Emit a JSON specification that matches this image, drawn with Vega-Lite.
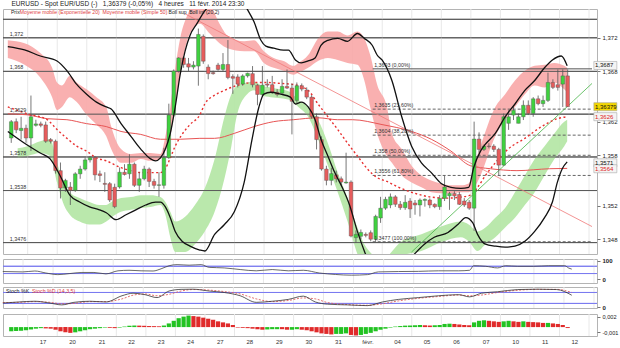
{
"$schema":"https://vega.github.io/schema/vega-lite/v6.json",
"padding":{"left":0,"top":0,"right":0,"bottom":0},
"config":{"font":"Liberation Sans","view":{"stroke":"#b4b4b4","strokeWidth":1},"axisBottom":{"labelOverlap":false,"labelSeparation":0,"labelFlush":false}},
"title":{"text":"EURUSD - Spot EUR/USD (-)\u00a0\u00a0\u00a01,36379 (-0,05%)\u00a0\u00a0\u00a04 heures\u00a0\u00a0\u00a011 févr. 2014 23:30","anchor":"start","frame":"bounds","fontSize":6.5,"fontWeight":"normal","color":"#222","offset":1,"dx":11},
"spacing":2,
"datasets":{
"days":[{"x":3.34},{"x":9.34},{"x":15.34},{"x":21.34},{"x":27.34},{"x":33.34},{"x":39.34},{"x":45.34},{"x":51.34},{"x":57.34},{"x":63.34},{"x":69.34},{"x":75.34},{"x":81.34},{"x":87.34},{"x":93.34},{"x":99.34},{"x":105.34},{"x":111.34},{"x":117.34}],
"candles":[
{"x":0,"o":1.36006,"h":1.3622,"l":1.35948,"c":1.36201},
{"x":1,"o":1.36201,"h":1.36239,"l":1.36064,"c":1.36103},
{"x":2,"o":1.36095,"h":1.36259,"l":1.35987,"c":1.36122},
{"x":3,"o":1.36122,"h":1.36165,"l":1.35948,"c":1.36006},
{"x":4,"o":1.36006,"h":1.36512,"l":1.35851,"c":1.36259},
{"x":5,"o":1.36157,"h":1.36224,"l":1.36142,"c":1.36174},
{"x":6,"o":1.36174,"h":1.36201,"l":1.36134,"c":1.36157},
{"x":7,"o":1.36162,"h":1.36201,"l":1.35948,"c":1.35967},
{"x":8,"o":1.35987,"h":1.36006,"l":1.35941,"c":1.35967},
{"x":9,"o":1.35967,"h":1.35987,"l":1.35582,"c":1.35617},
{"x":10,"o":1.35617,"h":1.35714,"l":1.35286,"c":1.3541},
{"x":11,"o":1.3541,"h":1.3552,"l":1.35364,"c":1.35501},
{"x":12,"o":1.35422,"h":1.35481,"l":1.35208,"c":1.35383},
{"x":13,"o":1.35383,"h":1.35598,"l":1.35364,"c":1.35579},
{"x":14,"o":1.35579,"h":1.35675,"l":1.3552,"c":1.35636},
{"x":15,"o":1.35636,"h":1.35772,"l":1.35617,"c":1.35745},
{"x":16,"o":1.35745,"h":1.35792,"l":1.35714,"c":1.35772},
{"x":17,"o":1.35772,"h":1.35792,"l":1.35501,"c":1.35567},
{"x":18,"o":1.35579,"h":1.35617,"l":1.35481,"c":1.35559},
{"x":19,"o":1.35465,"h":1.35598,"l":1.35364,"c":1.35454},
{"x":20,"o":1.35462,"h":1.35481,"l":1.35243,"c":1.35267},
{"x":21,"o":1.35419,"h":1.35462,"l":1.35169,"c":1.35188},
{"x":22,"o":1.35422,"h":1.35655,"l":1.35403,"c":1.35598},
{"x":23,"o":1.35598,"h":1.35694,"l":1.35559,"c":1.35571},
{"x":24,"o":1.35579,"h":1.35812,"l":1.3552,"c":1.35694},
{"x":25,"o":1.35694,"h":1.35714,"l":1.35422,"c":1.35442},
{"x":26,"o":1.35442,"h":1.35598,"l":1.35364,"c":1.3552},
{"x":27,"o":1.3552,"h":1.35675,"l":1.35501,"c":1.35636},
{"x":28,"o":1.35636,"h":1.35655,"l":1.35422,"c":1.35489},
{"x":29,"o":1.35489,"h":1.3552,"l":1.35403,"c":1.35442},
{"x":30,"o":1.35442,"h":1.35598,"l":1.35305,"c":1.35448},
{"x":31,"o":1.35442,"h":1.35889,"l":1.35403,"c":1.35772},
{"x":32,"o":1.35772,"h":1.36415,"l":1.35757,"c":1.36279},
{"x":33,"o":1.36279,"h":1.36823,"l":1.36259,"c":1.36804},
{"x":34,"o":1.36804,"h":1.36968,"l":1.36785,"c":1.3696},
{"x":35,"o":1.3696,"h":1.36979,"l":1.36843,"c":1.36882},
{"x":36,"o":1.3689,"h":1.3696,"l":1.36804,"c":1.36851},
{"x":37,"o":1.36851,"h":1.36921,"l":1.36823,"c":1.36875},
{"x":38,"o":1.36863,"h":1.3731,"l":1.36629,"c":1.3724},
{"x":39,"o":1.37217,"h":1.3724,"l":1.3689,"c":1.36921},
{"x":40,"o":1.36851,"h":1.36882,"l":1.36706,"c":1.36773},
{"x":41,"o":1.36785,"h":1.36808,"l":1.36761,"c":1.36773},
{"x":42,"o":1.36875,"h":1.36901,"l":1.36808,"c":1.36823},
{"x":43,"o":1.36823,"h":1.37018,"l":1.36804,"c":1.36882},
{"x":44,"o":1.36882,"h":1.37173,"l":1.36706,"c":1.36726},
{"x":45,"o":1.36738,"h":1.36765,"l":1.36532,"c":1.36718},
{"x":46,"o":1.36734,"h":1.36765,"l":1.36609,"c":1.36648},
{"x":47,"o":1.36648,"h":1.36765,"l":1.36629,"c":1.36746},
{"x":48,"o":1.36746,"h":1.36785,"l":1.36726,"c":1.36777},
{"x":49,"o":1.36773,"h":1.36863,"l":1.36609,"c":1.36641},
{"x":50,"o":1.36636,"h":1.36648,"l":1.36396,"c":1.36525},
{"x":51,"o":1.36525,"h":1.36863,"l":1.36501,"c":1.36636},
{"x":52,"o":1.36648,"h":1.36706,"l":1.36609,"c":1.36636},
{"x":53,"o":1.36641,"h":1.36746,"l":1.36532,"c":1.36551},
{"x":54,"o":1.36551,"h":1.36589,"l":1.36501,"c":1.36525},
{"x":55,"o":1.3654,"h":1.36706,"l":1.36525,"c":1.36621},
{"x":56,"o":1.36621,"h":1.36823,"l":1.36589,"c":1.36601},
{"x":57,"o":1.36601,"h":1.36656,"l":1.36049,"c":1.36443},
{"x":58,"o":1.36454,"h":1.36668,"l":1.3642,"c":1.36629},
{"x":59,"o":1.36629,"h":1.36656,"l":1.36563,"c":1.36589},
{"x":60,"o":1.36578,"h":1.36609,"l":1.36469,"c":1.36493},
{"x":61,"o":1.36493,"h":1.36516,"l":1.36236,"c":1.36259},
{"x":62,"o":1.36259,"h":1.36298,"l":1.3587,"c":1.35987},
{"x":63,"o":1.35987,"h":1.36026,"l":1.35617,"c":1.35636},
{"x":64,"o":1.35636,"h":1.35675,"l":1.35442,"c":1.35501},
{"x":65,"o":1.35501,"h":1.35652,"l":1.35442,"c":1.35582},
{"x":66,"o":1.35567,"h":1.35617,"l":1.35477,"c":1.3552},
{"x":67,"o":1.3552,"h":1.35547,"l":1.35442,"c":1.35481},
{"x":68,"o":1.3547,"h":1.35831,"l":1.35462,"c":1.35481},
{"x":69,"o":1.35481,"h":1.35501,"l":1.34823,"c":1.34838},
{"x":70,"o":1.34819,"h":1.34905,"l":1.34757,"c":1.34858},
{"x":71,"o":1.34835,"h":1.34916,"l":1.348,"c":1.34881},
{"x":72,"o":1.34858,"h":1.34881,"l":1.34823,"c":1.34846},
{"x":73,"o":1.34878,"h":1.34905,"l":1.34775,"c":1.348},
{"x":74,"o":1.348,"h":1.35092,"l":1.3477,"c":1.35072},
{"x":75,"o":1.35053,"h":1.35305,"l":1.34995,"c":1.3517},
{"x":76,"o":1.3517,"h":1.35305,"l":1.3515,"c":1.35275},
{"x":77,"o":1.35208,"h":1.35345,"l":1.3517,"c":1.35305},
{"x":78,"o":1.35305,"h":1.35325,"l":1.35185,"c":1.35216},
{"x":79,"o":1.35216,"h":1.35255,"l":1.3515,"c":1.35176},
{"x":80,"o":1.35176,"h":1.35325,"l":1.3515,"c":1.3524},
{"x":81,"o":1.35255,"h":1.3529,"l":1.35053,"c":1.3516},
{"x":82,"o":1.35232,"h":1.35267,"l":1.35092,"c":1.35208},
{"x":83,"o":1.35208,"h":1.35286,"l":1.35072,"c":1.35267},
{"x":84,"o":1.35263,"h":1.35286,"l":1.35188,"c":1.35275},
{"x":85,"o":1.35267,"h":1.35286,"l":1.3517,"c":1.35208},
{"x":86,"o":1.35216,"h":1.35228,"l":1.3517,"c":1.35188},
{"x":87,"o":1.35188,"h":1.35325,"l":1.3515,"c":1.35286},
{"x":88,"o":1.35286,"h":1.35559,"l":1.35255,"c":1.35422},
{"x":89,"o":1.35317,"h":1.35364,"l":1.3515,"c":1.35345},
{"x":90,"o":1.35345,"h":1.35372,"l":1.35267,"c":1.35317},
{"x":91,"o":1.35333,"h":1.35364,"l":1.35208,"c":1.35216},
{"x":92,"o":1.35255,"h":1.3529,"l":1.35185,"c":1.35208},
{"x":93,"o":1.3524,"h":1.35267,"l":1.3515,"c":1.3517},
{"x":94,"o":1.3517,"h":1.36201,"l":1.349,"c":1.35994},
{"x":95,"o":1.35994,"h":1.36073,"l":1.35831,"c":1.3587},
{"x":96,"o":1.3587,"h":1.35929,"l":1.35851,"c":1.35909},
{"x":97,"o":1.35909,"h":1.35944,"l":1.35882,"c":1.35905},
{"x":98,"o":1.35909,"h":1.35932,"l":1.3584,"c":1.3587},
{"x":99,"o":1.3587,"h":1.35889,"l":1.35559,"c":1.35683},
{"x":100,"o":1.35683,"h":1.36298,"l":1.35675,"c":1.36259},
{"x":101,"o":1.36181,"h":1.36337,"l":1.36103,"c":1.36259},
{"x":102,"o":1.36279,"h":1.36376,"l":1.3622,"c":1.36337},
{"x":103,"o":1.36181,"h":1.36298,"l":1.36181,"c":1.36259},
{"x":104,"o":1.36259,"h":1.36454,"l":1.3622,"c":1.36396},
{"x":105,"o":1.36396,"h":1.36454,"l":1.36279,"c":1.36298},
{"x":106,"o":1.36298,"h":1.36493,"l":1.36259,"c":1.36473},
{"x":107,"o":1.36473,"h":1.36512,"l":1.36396,"c":1.36415},
{"x":108,"o":1.36415,"h":1.36512,"l":1.36376,"c":1.36454},
{"x":109,"o":1.36454,"h":1.36785,"l":1.36435,"c":1.36668},
{"x":110,"o":1.36668,"h":1.36706,"l":1.36589,"c":1.36609},
{"x":111,"o":1.36641,"h":1.36823,"l":1.36571,"c":1.36609},
{"x":112,"o":1.36648,"h":1.36823,"l":1.36376,"c":1.36746},
{"x":113,"o":1.36746,"h":1.36823,"l":1.36376,"c":1.36379}],
"ind":[
{"x":-0.7,"s":"up","p":1.37096},{"x":2.7,"s":"up","p":1.37056},{"x":5.9,"s":"up","p":1.36983},{"x":9.3,"s":"up","p":1.36924},{"x":11.3,"s":"up","p":1.36808},{"x":13.3,"s":"up","p":1.36644},{"x":15.3,"s":"up","p":1.36528},{"x":17.3,"s":"up","p":1.36434},{"x":19.3,"s":"up","p":1.36376},{"x":20.3,"s":"up","p":1.36352},{"x":22.3,"s":"up","p":1.36177},{"x":24.3,"s":"up","p":1.36026},{"x":26.3,"s":"up","p":1.35874},{"x":28.3,"s":"up","p":1.35757},{"x":29.3,"s":"up","p":1.35734},{"x":30.3,"s":"up","p":1.35769},{"x":31.3,"s":"up","p":1.35874},{"x":32.3,"s":"up","p":1.36061},{"x":33.3,"s":"up","p":1.36376},{"x":34.3,"s":"up","p":1.36761},{"x":35.3,"s":"up","p":1.37041},{"x":36.3,"s":"up","p":1.37228},{"x":37.7,"s":"up","p":1.37368},{"x":39.3,"s":"up","p":1.3752},{"x":41.3,"s":"up","p":1.37637},{"x":44.3,"s":"up","p":1.37718},{"x":47.3,"s":"up","p":1.37602},{"x":47.9,"s":"up","p":1.37543},{"x":49.3,"s":"up","p":1.37391},{"x":50.7,"s":"up","p":1.3717},{"x":51.7,"s":"up","p":1.371},{"x":53.3,"s":"up","p":1.37076},{"x":55.3,"s":"up","p":1.37053},{"x":56.3,"s":"up","p":1.37053},{"x":57.7,"s":"up","p":1.36936},{"x":58.9,"s":"up","p":1.36901},{"x":60.3,"s":"up","p":1.36924},{"x":61.7,"s":"up","p":1.3696},{"x":62.9,"s":"up","p":1.37111},{"x":64.3,"s":"up","p":1.3717},{"x":66.3,"s":"up","p":1.37193},{"x":68.3,"s":"up","p":1.37158},{"x":70.3,"s":"up","p":1.37251},{"x":71.7,"s":"up","p":1.37193},{"x":73.3,"s":"up","p":1.37111},{"x":74.3,"s":"up","p":1.36995},{"x":75.3,"s":"up","p":1.36936},{"x":77.3,"s":"up","p":1.36691},{"x":79.3,"s":"up","p":1.36259},{"x":81.3,"s":"up","p":1.35909},{"x":83.3,"s":"up","p":1.3571},{"x":85.3,"s":"up","p":1.35594},{"x":87.3,"s":"up","p":1.35465},{"x":89.3,"s":"up","p":1.35418},{"x":91.3,"s":"up","p":1.35407},{"x":92.9,"s":"up","p":1.35418},{"x":93.9,"s":"up","p":1.35652},{"x":95.3,"s":"up","p":1.3585},{"x":96.3,"s":"up","p":1.35932},{"x":98.3,"s":"up","p":1.36061},{"x":100.3,"s":"up","p":1.36259},{"x":102.3,"s":"up","p":1.36411},{"x":104.3,"s":"up","p":1.36574},{"x":106.3,"s":"up","p":1.36691},{"x":108.3,"s":"up","p":1.36843},{"x":109.9,"s":"up","p":1.36936},{"x":111.7,"s":"up","p":1.36983},{"x":112.9,"s":"up","p":1.36866},
{"x":-0.7,"s":"lo","p":1.36084},{"x":2.7,"s":"lo","p":1.35944},{"x":5.9,"s":"lo","p":1.35827},{"x":7.9,"s":"lo","p":1.35757},{"x":9.9,"s":"lo","p":1.35559},{"x":11.9,"s":"lo","p":1.35325},{"x":13.9,"s":"lo","p":1.35243},{"x":15.9,"s":"lo","p":1.35185},{"x":17.9,"s":"lo","p":1.3515},{"x":19.3,"s":"lo","p":1.35115},{"x":21.3,"s":"lo","p":1.35033},{"x":23.3,"s":"lo","p":1.35092},{"x":25.3,"s":"lo","p":1.3515},{"x":27.3,"s":"lo","p":1.35208},{"x":29.3,"s":"lo","p":1.35243},{"x":30.3,"s":"lo","p":1.35243},{"x":31.3,"s":"lo","p":1.35185},{"x":32.3,"s":"lo","p":1.35057},{"x":33.3,"s":"lo","p":1.34893},{"x":34.7,"s":"lo","p":1.34776},{"x":36.3,"s":"lo","p":1.34718},{"x":38.3,"s":"lo","p":1.34671},{"x":39.3,"s":"lo","p":1.3466},{"x":41.3,"s":"lo","p":1.34858},{"x":43.3,"s":"lo","p":1.34975},{"x":45.3,"s":"lo","p":1.35127},{"x":47.3,"s":"lo","p":1.35477},{"x":48.9,"s":"lo","p":1.35991},{"x":50.3,"s":"lo","p":1.36376},{"x":51.3,"s":"lo","p":1.36528},{"x":52.7,"s":"lo","p":1.36551},{"x":54.7,"s":"lo","p":1.36528},{"x":56.7,"s":"lo","p":1.36493},{"x":57.7,"s":"lo","p":1.36411},{"x":58.9,"s":"lo","p":1.36434},{"x":60.3,"s":"lo","p":1.36376},{"x":61.7,"s":"lo","p":1.36224},{"x":62.9,"s":"lo","p":1.35991},{"x":64.3,"s":"lo","p":1.35792},{"x":65.7,"s":"lo","p":1.35594},{"x":67.3,"s":"lo","p":1.35407},{"x":68.7,"s":"lo","p":1.35208},{"x":70.3,"s":"lo","p":1.34893},{"x":71.7,"s":"lo","p":1.3466},{"x":73.3,"s":"lo","p":1.34449},{"x":76.3,"s":"lo","p":1.34274},{"x":79.3,"s":"lo","p":1.34449},{"x":81.9,"s":"lo","p":1.34625},{"x":83.9,"s":"lo","p":1.34741},{"x":85.9,"s":"lo","p":1.34823},{"x":88.7,"s":"lo","p":1.34881},{"x":90.7,"s":"lo","p":1.34975},{"x":92.3,"s":"lo","p":1.35057},{"x":93.7,"s":"lo","p":1.34998},{"x":94.7,"s":"lo","p":1.34858},{"x":96.3,"s":"lo","p":1.34741},{"x":98.3,"s":"lo","p":1.34718},{"x":100.3,"s":"lo","p":1.34706},{"x":102.3,"s":"lo","p":1.34718},{"x":104.3,"s":"lo","p":1.34776},{"x":106.3,"s":"lo","p":1.34893},{"x":108.3,"s":"lo","p":1.35057},{"x":109.9,"s":"lo","p":1.35243},{"x":110.9,"s":"lo","p":1.35477},{"x":111.9,"s":"lo","p":1.3564},{"x":112.9,"s":"lo","p":1.35722},
{"x":-0.7,"s":"ema","p":1.36376},{"x":3.3,"s":"ema","p":1.36294},{"x":7.3,"s":"ema","p":1.36224},{"x":9.3,"s":"ema","p":1.36107},{"x":11.3,"s":"ema","p":1.36002},{"x":13.3,"s":"ema","p":1.35909},{"x":15.3,"s":"ema","p":1.3585},{"x":17.3,"s":"ema","p":1.35769},{"x":19.3,"s":"ema","p":1.35734},{"x":22.3,"s":"ema","p":1.35652},{"x":24.3,"s":"ema","p":1.35617},{"x":26.3,"s":"ema","p":1.35594},{"x":28.3,"s":"ema","p":1.35594},{"x":30.3,"s":"ema","p":1.35594},{"x":31.3,"s":"ema","p":1.3564},{"x":32.3,"s":"ema","p":1.35769},{"x":33.3,"s":"ema","p":1.35909},{"x":34.7,"s":"ema","p":1.36049},{"x":36.3,"s":"ema","p":1.36166},{"x":38.3,"s":"ema","p":1.36282},{"x":39.3,"s":"ema","p":1.36411},{"x":41.3,"s":"ema","p":1.36516},{"x":43.3,"s":"ema","p":1.36574},{"x":45.9,"s":"ema","p":1.36633},{"x":49.3,"s":"ema","p":1.36668},{"x":51.9,"s":"ema","p":1.36668},{"x":54.7,"s":"ema","p":1.36656},{"x":57.3,"s":"ema","p":1.36644},{"x":60.3,"s":"ema","p":1.36574},{"x":62.3,"s":"ema","p":1.36411},{"x":64.3,"s":"ema","p":1.36259},{"x":66.3,"s":"ema","p":1.36107},{"x":68.3,"s":"ema","p":1.35944},{"x":70.3,"s":"ema","p":1.35792},{"x":72.3,"s":"ema","p":1.3564},{"x":74.3,"s":"ema","p":1.35535},{"x":76.3,"s":"ema","p":1.35488},{"x":78.7,"s":"ema","p":1.35418},{"x":81.9,"s":"ema","p":1.35348},{"x":85.3,"s":"ema","p":1.35302},{"x":88.7,"s":"ema","p":1.3529},{"x":91.3,"s":"ema","p":1.35302},{"x":93.3,"s":"ema","p":1.35325},{"x":94.7,"s":"ema","p":1.35418},{"x":96.3,"s":"ema","p":1.35559},{"x":98.3,"s":"ema","p":1.3571},{"x":100.9,"s":"ema","p":1.35874},{"x":104.3,"s":"ema","p":1.36002},{"x":107.7,"s":"ema","p":1.36142},{"x":110.9,"s":"ema","p":1.36236},{"x":112.9,"s":"ema","p":1.3626},
{"x":-0.7,"s":"sma","p":1.36294},{"x":3.3,"s":"sma","p":1.36282},{"x":7.3,"s":"sma","p":1.36236},{"x":11.3,"s":"sma","p":1.36224},{"x":15.3,"s":"sma","p":1.36177},{"x":19.3,"s":"sma","p":1.36142},{"x":22.3,"s":"sma","p":1.36084},{"x":26.3,"s":"sma","p":1.36049},{"x":30.3,"s":"sma","p":1.35991},{"x":34.3,"s":"sma","p":1.35991},{"x":38.3,"s":"sma","p":1.36002},{"x":41.3,"s":"sma","p":1.36002},{"x":45.3,"s":"sma","p":1.36061},{"x":49.3,"s":"sma","p":1.36142},{"x":53.3,"s":"sma","p":1.36201},{"x":57.3,"s":"sma","p":1.36224},{"x":62.3,"s":"sma","p":1.36247},{"x":66.3,"s":"sma","p":1.36224},{"x":69.3,"s":"sma","p":1.36224},{"x":75.3,"s":"sma","p":1.36166},{"x":81.3,"s":"sma","p":1.36084},{"x":85.3,"s":"sma","p":1.35991},{"x":89.3,"s":"sma","p":1.3585},{"x":93.3,"s":"sma","p":1.35675},{"x":97.3,"s":"sma","p":1.3564},{"x":102.7,"s":"sma","p":1.35617},{"x":109.3,"s":"sma","p":1.3564},{"x":112.9,"s":"sma","p":1.35644}],
"trend":[{"x":35.3,"s":"r","p":1.37485},{"x":117.94,"s":"r","p":1.34951},{"x":81.3,"s":"g","p":1.34648},{"x":117.94,"s":"g","p":1.36656}],
"pink":[
{"x":-0.7,"t":1.3717,"b":1.3696},{"x":2.7,"t":1.37135,"b":1.36878},{"x":5.9,"t":1.37018,"b":1.36726},{"x":8.3,"t":1.36843,"b":1.36493},{"x":9.3,"t":1.36668,"b":1.36341},{"x":10.3,"t":1.36633,"b":1.36376},{"x":11.9,"t":1.36749,"b":1.36493},{"x":13.3,"t":1.36668,"b":1.36434},{"x":15.3,"t":1.36586,"b":1.36282},{"x":17.3,"t":1.36493,"b":1.36166},{"x":19.3,"t":1.36376,"b":1.36026},{"x":20.3,"t":1.36142,"b":1.35874},{"x":22.3,"t":1.35874,"b":1.3571},{"x":24.3,"t":1.35815,"b":1.3571},{"x":26.3,"t":1.35827,"b":1.35757},{"x":28.3,"t":1.35827,"b":1.35734},{"x":30.3,"t":1.35815,"b":1.35757},{"x":31.3,"t":1.36026,"b":1.3585},{"x":32.3,"t":1.36376,"b":1.36026},{"x":33.3,"t":1.36843,"b":1.36376},{"x":34.3,"t":1.37193,"b":1.36761},{"x":35.7,"t":1.37462,"b":1.37158},{"x":36.9,"t":1.37602,"b":1.3731},{"x":38.3,"t":1.3766,"b":1.37368},{"x":40.3,"t":1.37602,"b":1.37251},{"x":42.3,"t":1.37368,"b":1.37135},{"x":43.9,"t":1.37228,"b":1.37076},{"x":47.3,"t":1.37158,"b":1.37041},{"x":49.3,"t":1.3717,"b":1.37041},{"x":51.3,"t":1.37041,"b":1.36901},{"x":53.3,"t":1.3696,"b":1.36843},{"x":55.3,"t":1.36924,"b":1.36808},{"x":57.3,"t":1.36866,"b":1.36761},{"x":58.3,"t":1.36901,"b":1.36784},{"x":60.3,"t":1.36995,"b":1.36843},{"x":62.3,"t":1.37193,"b":1.36924},{"x":64.3,"t":1.37275,"b":1.3696},{"x":66.3,"t":1.37275,"b":1.36936},{"x":68.3,"t":1.37228,"b":1.36901},{"x":70.3,"t":1.37275,"b":1.36878},{"x":71.7,"t":1.37193,"b":1.36691},{"x":72.9,"t":1.36995,"b":1.36376},{"x":74.3,"t":1.36644,"b":1.36061},{"x":76.3,"t":1.36376,"b":1.35792},{"x":77.3,"t":1.36061,"b":1.3571},{"x":79.3,"t":1.35874,"b":1.35559},{"x":81.3,"t":1.35675,"b":1.35477},{"x":83.3,"t":1.35559,"b":1.35418},{"x":85.3,"t":1.35501,"b":1.3536},{"x":87.3,"t":1.35465,"b":1.35348},{"x":89.3,"t":1.35442,"b":1.35348},{"x":91.3,"t":1.35442,"b":1.3536},{"x":92.9,"t":1.35465,"b":1.3536},{"x":94.3,"t":1.35734,"b":1.35442},{"x":95.3,"t":1.35909,"b":1.35559},{"x":98.3,"t":1.36376,"b":1.36026},{"x":100.3,"t":1.36528,"b":1.36224},{"x":102.3,"t":1.36691,"b":1.36376},{"x":104.3,"t":1.36808,"b":1.36528},{"x":106.3,"t":1.36866,"b":1.36633},{"x":108.3,"t":1.36878,"b":1.36609},{"x":110.3,"t":1.36901,"b":1.36668},{"x":112.3,"t":1.36866,"b":1.36586},{"x":112.9,"t":1.36843,"b":1.36551}],
"green":[
{"x":1.3,"t":1.35885,"b":1.35769},{"x":3.3,"t":1.35909,"b":1.35792},{"x":5.9,"t":1.35967,"b":1.35827},{"x":7.9,"t":1.35991,"b":1.35792},{"x":9.3,"t":1.3571,"b":1.35477},{"x":10.7,"t":1.35477,"b":1.35208},{"x":11.9,"t":1.3536,"b":1.35092},{"x":13.9,"t":1.3529,"b":1.3501},{"x":15.9,"t":1.35243,"b":1.34975},{"x":17.9,"t":1.35208,"b":1.34975},{"x":19.3,"t":1.35208,"b":1.3501},{"x":20.3,"t":1.35243,"b":1.35057},{"x":22.3,"t":1.3529,"b":1.35127},{"x":24.3,"t":1.35302,"b":1.3515},{"x":26.3,"t":1.35325,"b":1.35173},{"x":28.3,"t":1.35325,"b":1.35185},{"x":30.3,"t":1.35302,"b":1.35208},{"x":31.3,"t":1.35243,"b":1.35092},{"x":32.3,"t":1.35127,"b":1.34823},{"x":33.3,"t":1.3501,"b":1.34648},{"x":35.3,"t":1.35068,"b":1.34648},{"x":37.3,"t":1.35208,"b":1.34741},{"x":39.3,"t":1.35407,"b":1.34893},{"x":41.3,"t":1.35757,"b":1.35127},{"x":43.3,"t":1.36259,"b":1.35524},{"x":44.7,"t":1.36528,"b":1.35909},{"x":45.9,"t":1.36633,"b":1.36294},{"x":47.9,"t":1.36668,"b":1.36528},{"x":49.3,"t":1.36679,"b":1.36574},{"x":50.7,"t":1.36633,"b":1.36516},{"x":52.7,"t":1.36609,"b":1.36493},{"x":54.7,"t":1.36586,"b":1.36481},{"x":56.7,"t":1.36551,"b":1.36458},{"x":58.3,"t":1.36458,"b":1.36376},{"x":60.3,"t":1.36376,"b":1.36259},{"x":62.3,"t":1.36224,"b":1.35991},{"x":64.3,"t":1.35944,"b":1.35675},{"x":66.3,"t":1.35594,"b":1.3536},{"x":68.3,"t":1.3529,"b":1.3501},{"x":70.3,"t":1.3494,"b":1.34625},{"x":71.7,"t":1.34741,"b":1.34449},{"x":75.3,"t":1.34566,"b":1.34274},{"x":79.3,"t":1.34776,"b":1.34601},{"x":83.3,"t":1.34858,"b":1.3466},{"x":87.3,"t":1.34951,"b":1.34765},{"x":91.3,"t":1.3501,"b":1.34823},{"x":92.9,"t":1.34975,"b":1.34776},{"x":94.7,"t":1.34893,"b":1.3466},{"x":96.3,"t":1.3494,"b":1.34741},{"x":98.3,"t":1.35057,"b":1.34823},{"x":100.3,"t":1.35173,"b":1.3494},{"x":102.3,"t":1.3536,"b":1.35057},{"x":104.3,"t":1.35559,"b":1.35208},{"x":106.3,"t":1.35757,"b":1.3536},{"x":108.3,"t":1.35909,"b":1.35559},{"x":110.3,"t":1.36061,"b":1.35757},{"x":112.3,"t":1.36201,"b":1.35909},{"x":112.9,"t":1.36224,"b":1.35967}],
"sr":[{"p":1.3742,"lab":""},{"p":1.372,"lab":"1,372"},{"p":1.368,"lab":"1,368"},{"p":1.3629,"lab":"1,3629"},{"p":1.3578,"lab":"1,3578"},{"p":1.3538,"lab":"1,3538"},{"p":1.3476,"lab":"1,3476"}],
"fib":[{"p":1.3683,"lab":"1,3693 (0,00%)","lvl":0},{"p":1.3635,"lab":"1,3635 (23,60%)","lvl":23.6},{"p":1.3604,"lab":"1,3604 (38,20%)","lvl":38.2},{"p":1.358,"lab":"1,358 (50,00%)","lvl":50},{"p":1.3556,"lab":"1,3556 (61,80%)","lvl":61.8},{"p":1.3477,"lab":"1,3477 (100,00%)","lvl":100}],
"rlab":[{"p":1.3687,"lab":"1,3687","k":"boll"},{"p":1.36379,"lab":"1,36379","k":"cur"},{"p":1.3626,"lab":"1,3626","k":"red"},{"p":1.3571,"lab":"1,3571","k":"boll"},{"p":1.3564,"lab":"1,3564","k":"red"}],
"rsi":[{"x":-0.7,"v":41},{"x":3.3,"v":39},{"x":5.7,"v":44},{"x":7.9,"v":33},{"x":10.3,"v":24},{"x":12.7,"v":30},{"x":15.1,"v":36},{"x":17.5,"v":36},{"x":19.9,"v":28},{"x":22.3,"v":45},{"x":24.5,"v":48},{"x":26.9,"v":45},{"x":29.3,"v":44},{"x":30.9,"v":56},{"x":32.5,"v":73},{"x":34.1,"v":79},{"x":36.5,"v":76},{"x":38.9,"v":79},{"x":40.5,"v":64},{"x":43.5,"v":61},{"x":46.7,"v":52},{"x":49.9,"v":45},{"x":53.1,"v":52},{"x":56.3,"v":45},{"x":59.3,"v":48},{"x":62.5,"v":33},{"x":65.7,"v":25},{"x":68.9,"v":21},{"x":72.1,"v":24},{"x":74.3,"v":39},{"x":78.3,"v":41},{"x":82.3,"v":42},{"x":86.3,"v":45},{"x":90.3,"v":45},{"x":92.5,"v":48},{"x":93.3,"v":73},{"x":95.7,"v":70},{"x":98.1,"v":61},{"x":99.7,"v":73},{"x":102.1,"v":70},{"x":105.3,"v":70},{"x":108.3,"v":73},{"x":111.5,"v":73},{"x":112.3,"v":60},{"x":112.9,"v":54.25}],
"stoch":[{"x":-0.7,"k":22,"d":25},{"x":2.5,"k":28,"d":26},{"x":5.7,"k":32,"d":30},{"x":8.7,"k":22,"d":26},{"x":11.1,"k":12,"d":18},{"x":13.5,"k":26,"d":20},{"x":16.7,"k":32,"d":30},{"x":19.9,"k":28,"d":30},{"x":23.1,"k":62,"d":45},{"x":25.3,"k":76,"d":65},{"x":27.7,"k":68,"d":72},{"x":30.1,"k":52,"d":62},{"x":32.5,"k":88,"d":70},{"x":34.9,"k":97,"d":88},{"x":37.3,"k":98,"d":96},{"x":40.5,"k":88,"d":93},{"x":43.5,"k":80,"d":85},{"x":46.7,"k":62,"d":72},{"x":49.9,"k":26,"d":45},{"x":53.1,"k":32,"d":30},{"x":56.3,"k":42,"d":36},{"x":59.3,"k":60,"d":50},{"x":61.7,"k":28,"d":45},{"x":64.1,"k":16,"d":25},{"x":68.1,"k":12,"d":14},{"x":72.1,"k":8,"d":10},{"x":75.1,"k":28,"d":18},{"x":78.3,"k":42,"d":34},{"x":82.3,"k":52,"d":48},{"x":86.3,"k":62,"d":58},{"x":90.3,"k":68,"d":66},{"x":92.5,"k":56,"d":62},{"x":94.9,"k":76,"d":66},{"x":98.1,"k":84,"d":80},{"x":102.1,"k":96,"d":92},{"x":106.1,"k":98,"d":97},{"x":109.9,"k":96,"d":97},{"x":112.9,"k":64.86,"d":80}],
"macd":[{"x":0,"m":-0.0008,"d":"u"},{"x":1,"m":-0.00075,"d":"u"},{"x":2,"m":-0.0007,"d":"u"},{"x":3,"m":-0.0006,"d":"u"},{"x":4,"m":-0.00045,"d":"u"},{"x":5,"m":-0.0003,"d":"u"},{"x":6,"m":-0.0002,"d":"u"},{"x":7,"m":-0.00025,"d":"d"},{"x":8,"m":-0.0003,"d":"d"},{"x":9,"m":-0.0005,"d":"d"},{"x":10,"m":-0.0008,"d":"d"},{"x":11,"m":-0.001,"d":"d"},{"x":12,"m":-0.0011,"d":"d"},{"x":13,"m":-0.001,"d":"u"},{"x":14,"m":-0.0008,"d":"u"},{"x":15,"m":-0.0006,"d":"u"},{"x":16,"m":-0.0004,"d":"u"},{"x":17,"m":-0.0003,"d":"u"},{"x":18,"m":-0.0002,"d":"u"},{"x":19,"m":-0.0001,"d":"u"},{"x":20,"m":-0.00015,"d":"d"},{"x":21,"m":-0.0002,"d":"d"},{"x":22,"m":-0.0001,"d":"u"},{"x":23,"m":0.0001,"d":"u"},{"x":24,"m":0.00025,"d":"u"},{"x":25,"m":0.0003,"d":"u"},{"x":26,"m":0.00028,"d":"d"},{"x":27,"m":0.00025,"d":"d"},{"x":28,"m":0.0002,"d":"d"},{"x":29,"m":0.00018,"d":"d"},{"x":30,"m":0.00015,"d":"d"},{"x":31,"m":0.0003,"d":"u"},{"x":32,"m":0.0007,"d":"u"},{"x":33,"m":0.0012,"d":"u"},{"x":34,"m":0.0017,"d":"u"},{"x":35,"m":0.002,"d":"u"},{"x":36,"m":0.0022,"d":"u"},{"x":37,"m":0.0021,"d":"d"},{"x":38,"m":0.002,"d":"d"},{"x":39,"m":0.0018,"d":"d"},{"x":40,"m":0.0016,"d":"d"},{"x":41,"m":0.0014,"d":"d"},{"x":42,"m":0.0011,"d":"d"},{"x":43,"m":0.0009,"d":"d"},{"x":44,"m":0.0007,"d":"d"},{"x":45,"m":0.0004,"d":"d"},{"x":46,"m":-0.0001,"d":"d"},{"x":47,"m":-0.00015,"d":"d"},{"x":48,"m":-0.0002,"d":"d"},{"x":49,"m":-0.0003,"d":"d"},{"x":50,"m":-0.0004,"d":"d"},{"x":51,"m":-0.0005,"d":"d"},{"x":52,"m":-0.00045,"d":"u"},{"x":53,"m":-0.0004,"d":"u"},{"x":54,"m":-0.0004,"d":"u"},{"x":55,"m":-0.0004,"d":"d"},{"x":56,"m":-0.0005,"d":"d"},{"x":57,"m":-0.0005,"d":"u"},{"x":58,"m":-0.0004,"d":"u"},{"x":59,"m":-0.0005,"d":"d"},{"x":60,"m":-0.0006,"d":"d"},{"x":61,"m":-0.0008,"d":"d"},{"x":62,"m":-0.001,"d":"d"},{"x":63,"m":-0.0012,"d":"d"},{"x":64,"m":-0.0013,"d":"d"},{"x":65,"m":-0.0014,"d":"d"},{"x":66,"m":-0.0013,"d":"u"},{"x":67,"m":-0.0013,"d":"u"},{"x":68,"m":-0.0012,"d":"u"},{"x":69,"m":-0.0015,"d":"d"},{"x":70,"m":-0.0016,"d":"d"},{"x":71,"m":-0.0015,"d":"u"},{"x":72,"m":-0.0013,"d":"u"},{"x":73,"m":-0.0011,"d":"u"},{"x":74,"m":-0.0008,"d":"u"},{"x":75,"m":-0.0005,"d":"u"},{"x":76,"m":-0.0003,"d":"u"},{"x":77,"m":-0.0001,"d":"u"},{"x":78,"m":0.0001,"d":"u"},{"x":79,"m":0.0002,"d":"u"},{"x":80,"m":0.00028,"d":"u"},{"x":81,"m":0.0003,"d":"u"},{"x":82,"m":0.00035,"d":"u"},{"x":83,"m":0.0004,"d":"u"},{"x":84,"m":0.00035,"d":"d"},{"x":85,"m":0.0003,"d":"d"},{"x":86,"m":0.00035,"d":"u"},{"x":87,"m":0.0004,"d":"u"},{"x":88,"m":0.0006,"d":"u"},{"x":89,"m":0.00065,"d":"u"},{"x":90,"m":0.0006,"d":"d"},{"x":91,"m":0.0005,"d":"d"},{"x":92,"m":0.0004,"d":"d"},{"x":93,"m":0.00035,"d":"d"},{"x":94,"m":0.0009,"d":"u"},{"x":95,"m":0.0012,"d":"u"},{"x":96,"m":0.0013,"d":"u"},{"x":97,"m":0.0012,"d":"d"},{"x":98,"m":0.0011,"d":"d"},{"x":99,"m":0.001,"d":"d"},{"x":100,"m":0.0011,"d":"u"},{"x":101,"m":0.0012,"d":"u"},{"x":102,"m":0.0011,"d":"d"},{"x":103,"m":0.001,"d":"d"},{"x":104,"m":0.0011,"d":"u"},{"x":105,"m":0.001,"d":"d"},{"x":106,"m":0.00095,"d":"d"},{"x":107,"m":0.0009,"d":"d"},{"x":108,"m":0.0008,"d":"d"},{"x":109,"m":0.0008,"d":"u"},{"x":110,"m":0.0007,"d":"d"},{"x":111,"m":0.0006,"d":"d"},{"x":112,"m":0.0004,"d":"d"},{"x":113,"m":-0.00018,"d":"d"}]
},
"vconcat":[
{"width":594,"height":245,
"layer":[
{"data":{"name":"sr"},"mark":{"type":"rule","color":"#5a5a5a","strokeWidth":1},"encoding":{"y":{"field":"p","type":"quantitative","scale":{"domain":[1.34624,1.37543],"nice":false,"zero":false},"axis":{"orient":"right","title":null,"values":[1.348,1.35,1.352,1.354,1.358,1.36,1.362,1.366,1.368,1.37,1.372,1.374],"labelExpr":"replace(format(datum.value,'.3~f'),'.',',')","labelFontWeight":{"condition":{"test":"abs(datum.value*100-round(datum.value*100))<0.001","value":"bold"},"value":"normal"},"grid":false,"domain":false,"tickSize":3,"tickColor":"#777","labelFontSize":6,"labelColor":"#222","labelPadding":2,"labelOverlap":false}}}},
{"data":{"name":"days"},"mark":{"type":"rule","color":"#e8e8e8","strokeWidth":1},"encoding":{"x":{"field":"x","type":"quantitative","scale":{"domain":[-0.66,117.94],"nice":false,"zero":false},"axis":null}}},
{"data":{"name":"pink"},"mark":{"type":"area","color":"#f8a7a7","opacity":0.9,"clip":true,"interpolate":"monotone"},"encoding":{"x":{"field":"x","type":"quantitative","scale":{"domain":[-0.66,117.94],"nice":false,"zero":false},"axis":null},"y":{"field":"t","type":"quantitative","scale":{"domain":[1.34624,1.37543],"nice":false,"zero":false}},"y2":{"field":"b"}}},
{"data":{"name":"green"},"mark":{"type":"area","color":"#b6e7a8","opacity":0.95,"clip":true,"interpolate":"monotone"},"encoding":{"x":{"field":"x","type":"quantitative","scale":{"domain":[-0.66,117.94],"nice":false,"zero":false},"axis":null},"y":{"field":"t","type":"quantitative","scale":{"domain":[1.34624,1.37543],"nice":false,"zero":false}},"y2":{"field":"b"}}},
{"data":{"name":"sr"},"mark":{"type":"rule","color":"#5a5a5a","strokeWidth":1},"encoding":{"y":{"field":"p","type":"quantitative","scale":{"domain":[1.34624,1.37543],"nice":false,"zero":false}}}},
{"data":{"name":"fib"},"transform":[{"filter":"datum.lvl>0"}],"mark":{"type":"rule","color":"#555","strokeWidth":0.9,"strokeDash":[3,2]},"encoding":{"x":{"datum":73.4,"type":"quantitative","scale":{"domain":[-0.66,117.94],"nice":false,"zero":false},"axis":null},"x2":{"datum":117.94},"y":{"field":"p","type":"quantitative","scale":{"domain":[1.34624,1.37543],"nice":false,"zero":false}}}},
{"data":{"name":"fib"},"transform":[{"filter":"datum.lvl==0"}],"mark":{"type":"rule","color":"#555","strokeWidth":1},"encoding":{"x":{"datum":73.4,"type":"quantitative","scale":{"domain":[-0.66,117.94],"nice":false,"zero":false},"axis":null},"x2":{"datum":117.94},"y":{"field":"p","type":"quantitative","scale":{"domain":[1.34624,1.37543],"nice":false,"zero":false}}}},
{"data":{"name":"ind"},"transform":[{"filter":"datum.s=='sma'"}],"mark":{"type":"line","color":"#e85555","strokeWidth":1,"clip":true,"interpolate":"monotone"},"encoding":{"x":{"field":"x","type":"quantitative","scale":{"domain":[-0.66,117.94],"nice":false,"zero":false},"axis":null},"y":{"field":"p","type":"quantitative","scale":{"domain":[1.34624,1.37543],"nice":false,"zero":false}}}},
{"data":{"name":"trend"},"mark":{"type":"line","strokeWidth":0.8,"clip":true},"encoding":{"x":{"field":"x","type":"quantitative","scale":{"domain":[-0.66,117.94],"nice":false,"zero":false},"axis":null},"y":{"field":"p","type":"quantitative","scale":{"domain":[1.34624,1.37543],"nice":false,"zero":false}},"color":{"field":"s","type":"nominal","scale":{"domain":["r","g"],"range":["#f07878","#46b446"]},"legend":null},"detail":{"field":"s"}}},
{"data":{"name":"ind"},"transform":[{"filter":"datum.s=='ema'"}],"mark":{"type":"line","color":"#e83030","strokeWidth":1.4,"strokeDash":[2,2.5],"clip":true,"interpolate":"monotone"},"encoding":{"x":{"field":"x","type":"quantitative","scale":{"domain":[-0.66,117.94],"nice":false,"zero":false},"axis":null},"y":{"field":"p","type":"quantitative","scale":{"domain":[1.34624,1.37543],"nice":false,"zero":false}}}},
{"data":{"name":"candles"},"mark":{"type":"rule","color":"#555","strokeWidth":0.8},"encoding":{"x":{"field":"x","type":"quantitative","scale":{"domain":[-0.66,117.94],"nice":false,"zero":false},"axis":null},"y":{"field":"l","type":"quantitative","scale":{"domain":[1.34624,1.37543],"nice":false,"zero":false}},"y2":{"field":"h"}}},
{"data":{"name":"candles"},"mark":{"type":"bar","width":3.6,"stroke":"#505050","strokeWidth":0.4},"encoding":{"x":{"field":"x","type":"quantitative","scale":{"domain":[-0.66,117.94],"nice":false,"zero":false},"axis":null},"y":{"field":"o","type":"quantitative","scale":{"domain":[1.34624,1.37543],"nice":false,"zero":false}},"y2":{"field":"c"},"color":{"condition":{"test":"datum.c>=datum.o","value":"#3fd13f"},"value":"#e65c5c"}}},
{"data":{"name":"ind"},"transform":[{"filter":"datum.s=='up'||datum.s=='lo'"}],"mark":{"type":"line","color":"#111","strokeWidth":1.3,"clip":true,"interpolate":"monotone"},"encoding":{"x":{"field":"x","type":"quantitative","scale":{"domain":[-0.66,117.94],"nice":false,"zero":false},"axis":null},"y":{"field":"p","type":"quantitative","scale":{"domain":[1.34624,1.37543],"nice":false,"zero":false}},"detail":{"field":"s"}}},
{"data":{"name":"sr"},"transform":[{"filter":"datum.lab!=''"}],"mark":{"type":"text","align":"left","baseline":"bottom","fontSize":5.4,"color":"#333","dy":-1},"encoding":{"x":{"datum":-0.3,"type":"quantitative","scale":{"domain":[-0.66,117.94],"nice":false,"zero":false},"axis":null},"y":{"field":"p","type":"quantitative","scale":{"domain":[1.34624,1.37543],"nice":false,"zero":false}},"text":{"field":"lab"}}},
{"data":{"name":"fib"},"mark":{"type":"text","align":"left","baseline":"bottom","fontSize":5.3,"color":"#333","dy":-1},"encoding":{"x":{"datum":73.7,"type":"quantitative","scale":{"domain":[-0.66,117.94],"nice":false,"zero":false},"axis":null},"y":{"field":"p","type":"quantitative","scale":{"domain":[1.34624,1.37543],"nice":false,"zero":false}},"text":{"field":"lab"}}},
{"data":{"name":"rlab"},"mark":{"type":"point","shape":"M-1,-0.35H1V0.35H-1Z","size":529,"filled":true,"opacity":1,"stroke":"#a8a8a8","strokeWidth":0.6},"encoding":{"x":{"datum":120.65,"type":"quantitative","scale":{"domain":[-0.66,117.94],"nice":false,"zero":false},"axis":null},"y":{"field":"p","type":"quantitative","scale":{"domain":[1.34624,1.37543],"nice":false,"zero":false}},"fill":{"condition":{"test":"datum.k=='cur'","value":"#f2d600"},"value":"#f4f4f4"}}},
{"data":{"name":"rlab"},"mark":{"type":"text","align":"left","baseline":"middle","fontSize":6},"encoding":{"x":{"datum":118.55,"type":"quantitative","scale":{"domain":[-0.66,117.94],"nice":false,"zero":false},"axis":null},"y":{"field":"p","type":"quantitative","scale":{"domain":[1.34624,1.37543],"nice":false,"zero":false}},"text":{"field":"lab"},"color":{"condition":{"test":"datum.k=='red'","value":"#e02020"},"value":"#111"}}},
{"data":{"values":[{"lab":"Prix","col":"k","x":-0.06},{"lab":"Moyenne mobile (Exponentielle 20)","col":"r","x":1.74},{"lab":"Moyenne mobile (Simple 50)","col":"r","x":18.54},{"lab":"Boll sup","col":"k","x":31.94},{"lab":"Boll inf (20,2)","col":"k","x":36.14}]},"mark":{"type":"text","align":"left","baseline":"middle","fontSize":5.1},"encoding":{"x":{"field":"x","type":"quantitative","scale":{"domain":[-0.66,117.94],"nice":false,"zero":false},"axis":null},"y":{"datum":1.37509,"type":"quantitative","scale":{"domain":[1.34624,1.37543],"nice":false,"zero":false}},"text":{"field":"lab"},"color":{"condition":{"test":"datum.col=='r'","value":"#e04040"},"value":"#222"}}},
{"mark":{"type":"text","align":"left","baseline":"middle","fontSize":5.5,"color":"#444"},"encoding":{"x":{"datum":-0.06,"type":"quantitative","scale":{"domain":[-0.66,117.94],"nice":false,"zero":false},"axis":null},"y":{"datum":1.34683,"type":"quantitative","scale":{"domain":[1.34624,1.37543],"nice":false,"zero":false}},"text":{"value":"© IT-Finance.com"}}}
]},
{"width":594,"height":24,"layer":[
{"data":{"values":[{"v":70},{"v":30}]},"mark":{"type":"rule","color":"#7b7bf0","strokeWidth":1},"encoding":{"y":{"field":"v","type":"quantitative","scale":{"domain":[-22,110],"nice":false,"zero":false},"axis":{"orient":"right","title":null,"values":[0,100],"grid":false,"domain":false,"tickSize":3,"tickColor":"#777","labelFontSize":6,"labelFontWeight":"bold","labelColor":"#222","labelPadding":2,"labelOverlap":false}}}},
{"data":{"name":"days"},"mark":{"type":"rule","color":"#e8e8e8","strokeWidth":1},"encoding":{"x":{"field":"x","type":"quantitative","scale":{"domain":[-0.66,117.94],"nice":false,"zero":false},"axis":null}}},
{"data":{"values":[{"v":70},{"v":30}]},"mark":{"type":"rule","color":"#7b7bf0","strokeWidth":1},"encoding":{"y":{"field":"v","type":"quantitative","scale":{"domain":[-22,110],"nice":false,"zero":false}}}},
{"data":{"name":"rsi"},"mark":{"type":"line","color":"#444","strokeWidth":0.8,"interpolate":"monotone"},"encoding":{"x":{"field":"x","type":"quantitative","scale":{"domain":[-0.66,117.94],"nice":false,"zero":false},"axis":null},"y":{"field":"v","type":"quantitative","scale":{"domain":[-22,110],"nice":false,"zero":false}}}},
{"mark":{"type":"text","align":"left","baseline":"middle","fontSize":5.3,"color":"#222"},"encoding":{"x":{"datum":-0.06,"type":"quantitative","scale":{"domain":[-0.66,117.94],"nice":false,"zero":false},"axis":null},"y":{"datum":84,"type":"quantitative","scale":{"domain":[-22,110],"nice":false,"zero":false}},"text":{"value":"RSI (10)"}}},
{"mark":{"type":"point","shape":"M-1,-0.35H1V0.35H-1Z","size":529,"filled":true,"opacity":1,"fill":"#f4f4f4","stroke":"#a8a8a8","strokeWidth":0.6},"encoding":{"x":{"datum":120.65,"type":"quantitative","scale":{"domain":[-0.66,117.94],"nice":false,"zero":false},"axis":null},"y":{"datum":54.25,"type":"quantitative","scale":{"domain":[-22,110],"nice":false,"zero":false}}}},
{"mark":{"type":"text","align":"left","baseline":"middle","fontSize":6,"color":"#111"},"encoding":{"x":{"datum":118.55,"type":"quantitative","scale":{"domain":[-0.66,117.94],"nice":false,"zero":false},"axis":null},"y":{"datum":54.25,"type":"quantitative","scale":{"domain":[-22,110],"nice":false,"zero":false}},"text":{"value":"54,253"}}}
]},
{"width":594,"height":21,"layer":[
{"data":{"values":[{"v":80},{"v":20}]},"mark":{"type":"rule","color":"#7b7bf0","strokeWidth":1},"encoding":{"y":{"field":"v","type":"quantitative","scale":{"domain":[-5,110],"nice":false,"zero":false},"axis":{"orient":"right","title":null,"values":[0],"grid":false,"domain":false,"tickSize":3,"tickColor":"#777","labelFontSize":6,"labelFontWeight":"bold","labelColor":"#222","labelPadding":2,"labelOverlap":false}}}},
{"data":{"name":"days"},"mark":{"type":"rule","color":"#e8e8e8","strokeWidth":1},"encoding":{"x":{"field":"x","type":"quantitative","scale":{"domain":[-0.66,117.94],"nice":false,"zero":false},"axis":null}}},
{"data":{"values":[{"v":80},{"v":20}]},"mark":{"type":"rule","color":"#7b7bf0","strokeWidth":1},"encoding":{"y":{"field":"v","type":"quantitative","scale":{"domain":[-5,110],"nice":false,"zero":false}}}},
{"data":{"name":"stoch"},"mark":{"type":"line","color":"#e06060","strokeWidth":0.9,"strokeDash":[2,1.5],"interpolate":"monotone"},"encoding":{"x":{"field":"x","type":"quantitative","scale":{"domain":[-0.66,117.94],"nice":false,"zero":false},"axis":null},"y":{"field":"d","type":"quantitative","scale":{"domain":[-5,110],"nice":false,"zero":false}}}},
{"data":{"name":"stoch"},"mark":{"type":"line","color":"#333","strokeWidth":0.8,"interpolate":"monotone"},"encoding":{"x":{"field":"x","type":"quantitative","scale":{"domain":[-0.66,117.94],"nice":false,"zero":false},"axis":null},"y":{"field":"k","type":"quantitative","scale":{"domain":[-5,110],"nice":false,"zero":false}}}},
{"data":{"values":[{"lab":"Stoch %K","col":"k","x":-0.06},{"lab":"Stoch %D (14,3,5)","col":"r","x":5.14}]},"mark":{"type":"text","align":"left","baseline":"middle","fontSize":5.3},"encoding":{"x":{"field":"x","type":"quantitative","scale":{"domain":[-0.66,117.94],"nice":false,"zero":false},"axis":null},"y":{"datum":90,"type":"quantitative","scale":{"domain":[-5,110],"nice":false,"zero":false}},"text":{"field":"lab"},"color":{"condition":{"test":"datum.col=='r'","value":"#e04040"},"value":"#222"}}},
{"mark":{"type":"point","shape":"M-1,-0.35H1V0.35H-1Z","size":529,"filled":true,"opacity":1,"fill":"#f4f4f4","stroke":"#a8a8a8","strokeWidth":0.6},"encoding":{"x":{"datum":120.65,"type":"quantitative","scale":{"domain":[-0.66,117.94],"nice":false,"zero":false},"axis":null},"y":{"datum":64.86,"type":"quantitative","scale":{"domain":[-5,110],"nice":false,"zero":false}}}},
{"mark":{"type":"text","align":"left","baseline":"middle","fontSize":6,"color":"#111"},"encoding":{"x":{"datum":118.55,"type":"quantitative","scale":{"domain":[-0.66,117.94],"nice":false,"zero":false},"axis":null},"y":{"datum":64.86,"type":"quantitative","scale":{"domain":[-5,110],"nice":false,"zero":false}},"text":{"value":"64,857"}}}
]},
{"width":594,"height":22,"layer":[
{"data":{"name":"days"},"mark":{"type":"rule","color":"#e8e8e8","strokeWidth":1},"encoding":{"x":{"field":"x","type":"quantitative","scale":{"domain":[-0.66,117.94],"nice":false,"zero":false},"axis":{"orient":"bottom","title":null,"values":[6.34,12.34,18.34,24.34,30.34,36.34,42.34,48.34,54.34,60.34,66.34,72.34,78.34,84.34,90.34,96.34,102.34,108.34,114.34],"labelExpr":"['17','20','21','22','23','24','27','28','29','30','31','févr.','04','05','06','07','10','11','12'][round((datum.value-6.34)/6)]","grid":false,"ticks":false,"domain":false,"labelFontSize":6,"labelColor":"#333","labelPadding":2,"labelOverlap":false,"labelSeparation":0,"labelFlush":false,"labelBound":false}}}},
{"data":{"name":"macd"},"mark":{"type":"bar","width":4.2},"encoding":{"x":{"field":"x","type":"quantitative","scale":{"domain":[-0.66,117.94],"nice":false,"zero":false},"axis":{"orient":"bottom","title":null,"values":[6.34,12.34,18.34,24.34,30.34,36.34,42.34,48.34,54.34,60.34,66.34,72.34,78.34,84.34,90.34,96.34,102.34,108.34,114.34],"labelExpr":"['17','20','21','22','23','24','27','28','29','30','31','févr.','04','05','06','07','10','11','12'][round((datum.value-6.34)/6)]","grid":false,"ticks":false,"domain":false,"labelFontSize":6,"labelColor":"#333","labelPadding":2,"labelOverlap":false,"labelSeparation":0,"labelFlush":false,"labelBound":false}},"y":{"field":"m","type":"quantitative","scale":{"domain":[-0.0017,0.0025],"nice":false,"zero":false},"axis":{"orient":"right","title":null,"values":[0.002,0.001,-0.001],"labelExpr":"replace(replace(format(datum.value,'.3f'),'.',','),'−','-')","grid":false,"domain":false,"tickSize":3,"tickColor":"#777","labelFontSize":5.6,"labelColor":"#222","labelPadding":2,"labelOverlap":false}},"y2":{"datum":0},"color":{"condition":{"test":"datum.d=='u'","value":"#22c322"},"value":"#e02a2a"}}},
{"mark":{"type":"text","align":"left","baseline":"middle","fontSize":5.3,"color":"#e04040"},"encoding":{"x":{"datum":-0.06,"type":"quantitative","scale":{"domain":[-0.66,117.94],"nice":false,"zero":false},"axis":{"orient":"bottom","title":null,"values":[6.34,12.34,18.34,24.34,30.34,36.34,42.34,48.34,54.34,60.34,66.34,72.34,78.34,84.34,90.34,96.34,102.34,108.34,114.34],"labelExpr":"['17','20','21','22','23','24','27','28','29','30','31','févr.','04','05','06','07','10','11','12'][round((datum.value-6.34)/6)]","grid":false,"ticks":false,"domain":false,"labelFontSize":6,"labelColor":"#333","labelPadding":2,"labelOverlap":false,"labelSeparation":0,"labelFlush":false,"labelBound":false}},"y":{"datum":0.00183,"type":"quantitative","scale":{"domain":[-0.0017,0.0025],"nice":false,"zero":false}},"text":{"value":"Histogramme MACD (9,26,12)"}}},
{"mark":{"type":"point","shape":"M-1,-0.35H1V0.35H-1Z","size":625,"filled":true,"opacity":1,"fill":"#f4f4f4","stroke":"#a8a8a8","strokeWidth":0.6},"encoding":{"x":{"datum":121.0,"type":"quantitative","scale":{"domain":[-0.66,117.94],"nice":false,"zero":false},"axis":{"orient":"bottom","title":null,"values":[6.34,12.34,18.34,24.34,30.34,36.34,42.34,48.34,54.34,60.34,66.34,72.34,78.34,84.34,90.34,96.34,102.34,108.34,114.34],"labelExpr":"['17','20','21','22','23','24','27','28','29','30','31','févr.','04','05','06','07','10','11','12'][round((datum.value-6.34)/6)]","grid":false,"ticks":false,"domain":false,"labelFontSize":6,"labelColor":"#333","labelPadding":2,"labelOverlap":false,"labelSeparation":0,"labelFlush":false,"labelBound":false}},"y":{"datum":-0.00018,"type":"quantitative","scale":{"domain":[-0.0017,0.0025],"nice":false,"zero":false}}}},
{"mark":{"type":"text","align":"left","baseline":"middle","fontSize":6,"color":"#e02020"},"encoding":{"x":{"datum":118.55,"type":"quantitative","scale":{"domain":[-0.66,117.94],"nice":false,"zero":false},"axis":{"orient":"bottom","title":null,"values":[6.34,12.34,18.34,24.34,30.34,36.34,42.34,48.34,54.34,60.34,66.34,72.34,78.34,84.34,90.34,96.34,102.34,108.34,114.34],"labelExpr":"['17','20','21','22','23','24','27','28','29','30','31','févr.','04','05','06','07','10','11','12'][round((datum.value-6.34)/6)]","grid":false,"ticks":false,"domain":false,"labelFontSize":6,"labelColor":"#333","labelPadding":2,"labelOverlap":false,"labelSeparation":0,"labelFlush":false,"labelBound":false}},"y":{"datum":-0.00018,"type":"quantitative","scale":{"domain":[-0.0017,0.0025],"nice":false,"zero":false}},"text":{"value":"-0,00018"}}}
]}
]
}
